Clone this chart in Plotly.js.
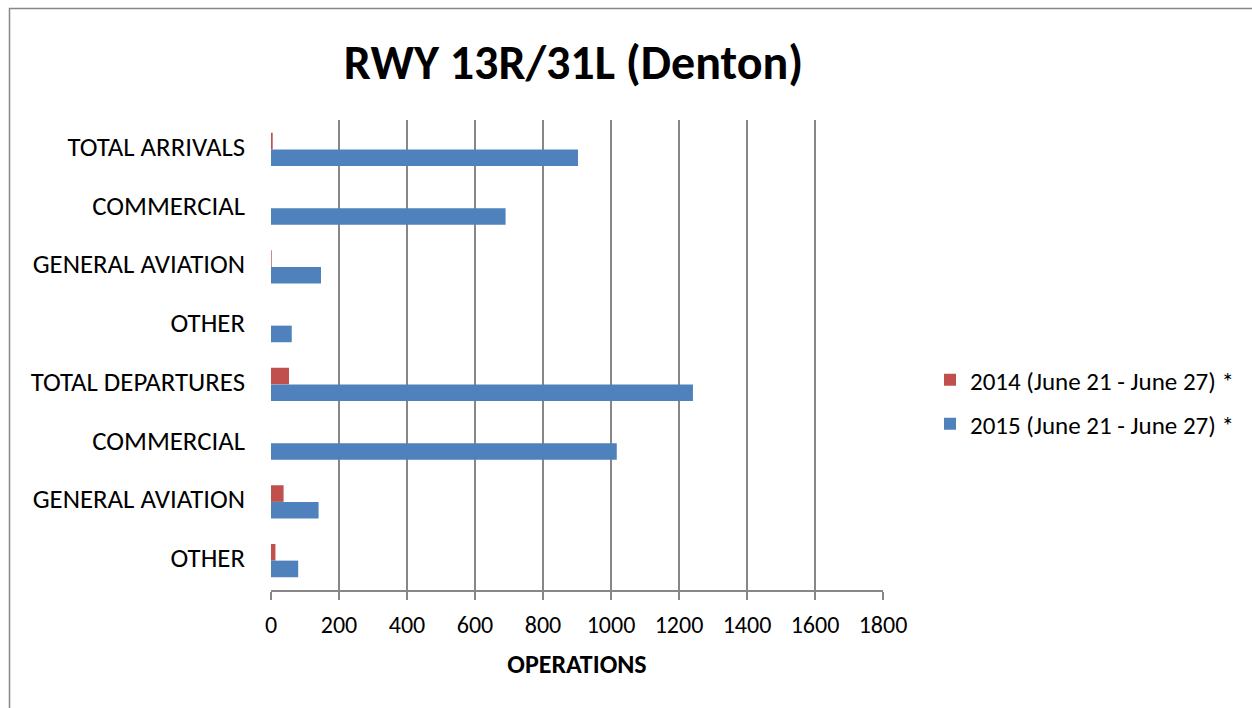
<!DOCTYPE html>
<html><head><meta charset="utf-8">
<script src="https://cdn.plot.ly/plotly-3.0.1.min.js"></script>
<style>html,body{margin:0;padding:0;background:#fff}#c{width:1252px;height:708px}</style>
</head><body><div id="c"></div>
<script>
const categories = ["TOTAL ARRIVALS","COMMERCIAL","GENERAL AVIATION","OTHER","TOTAL DEPARTURES","COMMERCIAL","GENERAL AVIATION","OTHER"];
const values2014 = [5, 0, 2, 0, 53, 0, 37, 13];
const values2015 = [903, 690, 147, 61, 1241, 1017, 140, 80];
const name2014 = "2014 (June 21 - June 27) *";
const name2015 = "2015 (June 21 - June 27) *";
const xTicks = [0,200,400,600,800,1000,1200,1400,1600,1800];

const idx = categories.map((_, i) => i);
const font = "Carlito, Calibri, Lato, 'Open Sans', sans-serif";
const L=271, R=883, T=120, B=590;
const px = v => (v - L) / (R - L), py = v => (B - v) / (B - T);

const traces = [
  {type:'bar', orientation:'h', name:name2014, x:values2014, y:idx, marker:{color:'#c0504d'}, legend:'legend'},
  {type:'bar', orientation:'h', name:name2015, x:values2015, y:idx, marker:{color:'#4f81bd'}, legend:'legend2'}
];
const legendFont = {size:25, family:font};
const layout = {
  width:1252, height:708,
  margin:{l:L, r:1252-R, t:T, b:708-B},
  paper_bgcolor:'#fff', plot_bgcolor:'#fff',
  font:{family:font, color:'#000'},
  barmode:'group', bargap:0.434, bargroupgap:0,
  title:{text:'<b>RWY 13R/31L (Denton)</b>', font:{size:48, family:font}, x:573.5/1252, xanchor:'center', y:1-62/708, yanchor:'middle'},
  xaxis:{range:[0,1800], tickvals:xTicks, ticktext:xTicks.map(String), showgrid:true, gridcolor:'#878787', gridwidth:2,
    zeroline:false, showline:true, linecolor:'#878787', linewidth:2, ticks:'outside', ticklen:8, tickcolor:'#878787', tickwidth:2,
    tickfont:{size:24}, ticklabelstandoff:4, title:{text:'<b>OPERATIONS</b>', font:{size:26}, standoff:17}, fixedrange:true},
  yaxis:{range:[7.5,-0.5], tickvals:idx.map(i => i - 0.05), ticktext:categories, showgrid:false, zeroline:false, showline:false,
    ticks:'', tickfont:{size:26.8}, ticklabelstandoff:25, fixedrange:true},
  showlegend:true,
  legend:{x:px(930), y:py(380), xanchor:'left', yanchor:'middle', font:legendFont, bgcolor:'rgba(0,0,0,0)', itemwidth:30},
  legend2:{x:px(930), y:py(424), xanchor:'left', yanchor:'middle', font:legendFont, bgcolor:'rgba(0,0,0,0)', itemwidth:30},
  shapes:[{type:'rect', xref:'paper', yref:'paper', x0:px(9.5), x1:px(1270), y0:py(8.5), y1:py(720), line:{color:'#878787', width:1.5}, fillcolor:'rgba(0,0,0,0)', layer:'below'}]
};
Plotly.newPlot('c', traces, layout, {displayModeBar:false, staticPlot:true});
</script></body></html>
